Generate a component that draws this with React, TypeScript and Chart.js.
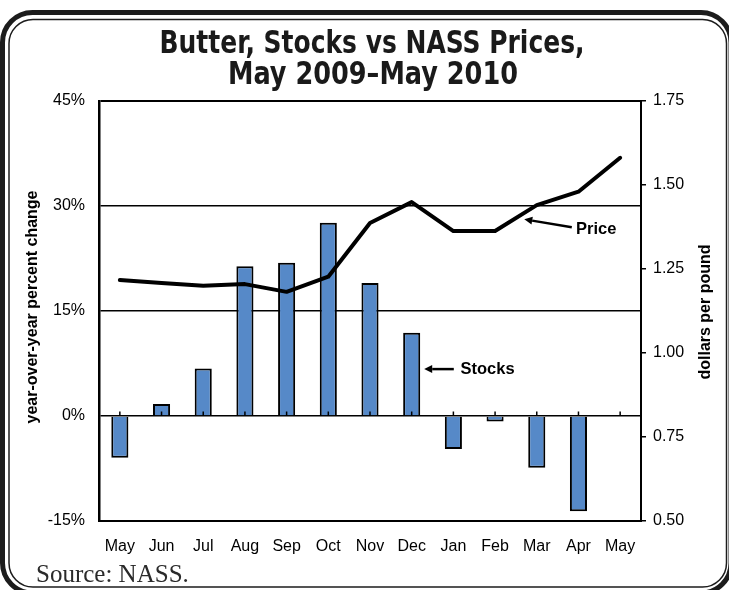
import React, { useEffect, useRef } from 'react';
import { Chart, registerables } from 'chart.js';

Chart.register(...registerables);

// ---- data ----
const months = ['May', 'Jun', 'Jul', 'Aug', 'Sep', 'Oct', 'Nov', 'Dec', 'Jan', 'Feb', 'Mar', 'Apr', 'May'];
const stocksChange: (number | null)[] = [-5.95, 1.7, 6.8, 21.4, 21.9, 27.6, 19.0, 11.9, -4.7, -0.8, -7.4, -13.6, null];
const priceDollars = [1.217, 1.208, 1.2, 1.205, 1.182, 1.227, 1.387, 1.449, 1.363, 1.363, 1.44, 1.48, 1.581];
const pctTicks = [-15, 0, 15, 30, 45];
const priceTicks = [0.5, 0.75, 1.0, 1.25, 1.5, 1.75];
const titleLines = ['Butter, Stocks vs NASS Prices,', 'May 2009\u2013May 2010'];
const leftAxisTitle = 'year-over-year percent change';
const rightAxisTitle = 'dollars per pound';
const sourceNote = 'Source: NASS.';
const priceLabel = 'Price';
const stocksLabel = 'Stocks';

const SANS = '"Liberation Sans", Arial, sans-serif';
const NARROW = '"Liberation Sans Narrow", "DejaVu Sans Condensed", "Liberation Sans", sans-serif';
const SERIF = '"Liberation Serif", "DejaVu Serif", serif';

function roundRect(ctx: CanvasRenderingContext2D, x: number, y: number, w: number, h: number, r: number) {
  ctx.beginPath();
  ctx.moveTo(x + r, y);
  ctx.lineTo(x + w - r, y);
  ctx.arcTo(x + w, y, x + w, y + r, r);
  ctx.lineTo(x + w, y + h - r);
  ctx.arcTo(x + w, y + h, x + w - r, y + h, r);
  ctx.lineTo(x + r, y + h);
  ctx.arcTo(x, y + h, x, y + h - r, r);
  ctx.lineTo(x, y + r);
  ctx.arcTo(x, y, x + r, y, r);
  ctx.closePath();
}

function arrow(ctx: CanvasRenderingContext2D, x1: number, y1: number, x2: number, y2: number) {
  const ang = Math.atan2(y2 - y1, x2 - x1);
  const hl = 8, hw = 4;
  const bx = x2 - hl * Math.cos(ang);
  const by = y2 - hl * Math.sin(ang);
  ctx.beginPath();
  ctx.moveTo(x1, y1);
  ctx.lineTo(bx, by);
  ctx.lineWidth = 2.5;
  ctx.strokeStyle = '#000';
  ctx.stroke();
  ctx.beginPath();
  ctx.moveTo(x2, y2);
  ctx.lineTo(bx + hw * Math.sin(ang), by - hw * Math.cos(ang));
  ctx.lineTo(bx - hw * Math.sin(ang), by + hw * Math.cos(ang));
  ctx.closePath();
  ctx.fillStyle = '#000';
  ctx.fill();
}

function fitText(ctx: CanvasRenderingContext2D, text: string, cx: number, y: number, targetW: number) {
  const w = ctx.measureText(text).width;
  const s = targetW / w;
  ctx.save();
  ctx.translate(cx, y);
  ctx.scale(s, 1);
  ctx.textAlign = 'center';
  ctx.fillText(text, 0, 0);
  ctx.restore();
}

const decor = {
  id: 'decor',
  beforeDraw(chart: any) {
    const ctx: CanvasRenderingContext2D = chart.ctx;
    ctx.save();
    ctx.fillStyle = '#fff';
    ctx.fillRect(0, 0, chart.width, chart.height);
    roundRect(ctx, 2.5, 12.5, 731 - 2.5, 593 - 12.5, 30);
    ctx.lineWidth = 5;
    ctx.strokeStyle = '#1c1c1c';
    ctx.stroke();
    roundRect(ctx, 9, 19.5, 726.5 - 9, 587 - 19.5, 24);
    ctx.lineWidth = 1.5;
    ctx.stroke();

    ctx.fillStyle = '#1a1a1a';
    ctx.textBaseline = 'alphabetic';
    ctx.font = `bold 32px ${NARROW}`;
    fitText(ctx, titleLines[0], 372, 53, 425);
    fitText(ctx, titleLines[1], 373, 84, 290);
    ctx.restore();
  },
  afterDatasetsDraw(chart: any) {
    const ctx: CanvasRenderingContext2D = chart.ctx;
    const xs = chart.scales.x;
    const y = chart.scales.y;
    const yR = chart.scales.yR;
    ctx.save();
    const y0 = y.getPixelForValue(0);
    ctx.strokeStyle = '#000';
    ctx.lineWidth = 1.5;
    months.forEach((_, i) => {
      const px = xs.getPixelForValue(i);
      ctx.beginPath();
      ctx.moveTo(px, y0);
      ctx.lineTo(px, y0 - 4.5);
      ctx.stroke();
    });

    arrow(ctx, xs.getPixelForValue(10.84), yR.getPixelForValue(1.374), xs.getPixelForValue(9.7), yR.getPixelForValue(1.398));
    ctx.fillStyle = '#000';
    ctx.font = `bold 16.5px ${SANS}`;
    ctx.textAlign = 'left';
    ctx.textBaseline = 'middle';
    ctx.fillText(priceLabel, xs.getPixelForValue(10.94), yR.getPixelForValue(1.369));

    arrow(ctx, xs.getPixelForValue(8.01), y.getPixelForValue(6.7), xs.getPixelForValue(7.3), y.getPixelForValue(6.7));
    ctx.fillStyle = '#000';
    ctx.fillText(stocksLabel, xs.getPixelForValue(8.17), y.getPixelForValue(6.6));
    ctx.restore();
  },
  afterDraw(chart: any) {
    const ctx: CanvasRenderingContext2D = chart.ctx;
    ctx.save();
    ctx.fillStyle = '#000';
    ctx.font = `bold 16px ${SANS}`;
    ctx.textAlign = 'center';
    ctx.textBaseline = 'middle';
    ctx.translate(33, 307);
    ctx.rotate(-Math.PI / 2);
    ctx.fillText(leftAxisTitle, 0, 0);
    ctx.restore();

    ctx.save();
    ctx.fillStyle = '#000';
    ctx.font = `bold 16px ${SANS}`;
    ctx.textAlign = 'center';
    ctx.textBaseline = 'middle';
    ctx.translate(706, 312);
    ctx.rotate(-Math.PI / 2);
    ctx.fillText(rightAxisTitle, 0, 0);
    ctx.restore();

    ctx.save();
    ctx.fillStyle = '#2a2a2a';
    ctx.font = `25px ${SERIF}`;
    ctx.textAlign = 'left';
    ctx.textBaseline = 'alphabetic';
    ctx.fillText(sourceNote, 36, 582);
    ctx.restore();
  },
};

export default function App() {
  const ref = useRef<HTMLCanvasElement>(null);
  useEffect(() => {
    document.body.style.margin = '0';
    const canvas = ref.current!;
    const tickFont = { family: SANS, size: 16 };
    const chart = new Chart(canvas, {
      type: 'bar',
      data: {
        labels: months,
        datasets: [
          {
            type: 'line',
            label: 'Price',
            data: priceDollars,
            yAxisID: 'yR',
            borderColor: '#000',
            backgroundColor: '#000',
            borderWidth: 4,
            pointRadius: 0,
            tension: 0,
            order: 0,
            borderCapStyle: 'round',
            borderJoinStyle: 'round',
          } as any,
          {
            type: 'bar',
            label: 'Stocks',
            data: stocksChange,
            yAxisID: 'y',
            backgroundColor: '#5689C8',
            borderColor: '#000',
            borderWidth: 2,
            categoryPercentage: 1,
            barPercentage: 0.41,
            order: 1,
          } as any,
        ],
      },
      options: {
        responsive: false,
        animation: false,
        layout: { padding: { top: 101, left: 0, right: 0, bottom: 0 } },
        plugins: {
          legend: { display: false },
          tooltip: { enabled: false },
          title: { display: false },
        },
        scales: {
          x: {
            position: 'bottom',
            offset: true,
            grid: { display: false, drawTicks: false },
            border: { display: true, color: '#000', width: 2 },
            ticks: { color: '#000', font: tickFont, padding: 16, maxRotation: 0, autoSkip: false },
            afterFit: (s: any) => { s.height = 69; },
          },
          y: {
            position: 'left',
            min: pctTicks[0],
            max: pctTicks[pctTicks.length - 1],
            ticks: { stepSize: 15, callback: (v: any) => `${v}%`, color: '#000', font: tickFont, padding: 14 },
            grid: {
              color: '#000',
              lineWidth: (c: any) => (c.tick && c.tick.value === pctTicks[pctTicks.length - 1] ? 2 : 1.5),
              drawTicks: false,
            },
            border: { display: true, color: '#000', width: 2.5 },
            afterFit: (s: any) => { s.width = 99; },
          },
          yR: {
            position: 'right',
            min: priceTicks[0],
            max: priceTicks[priceTicks.length - 1],
            ticks: { stepSize: 0.25, callback: (v: any) => Number(v).toFixed(2), color: '#000', font: tickFont, padding: 7 },
            grid: { drawOnChartArea: false, color: '#000', lineWidth: 1.5, tickLength: 5 },
            border: { display: true, color: '#000', width: 2 },
            afterFit: (s: any) => { s.width = 88; },
          },
        },
      } as any,
      plugins: [decor],
    });
    return () => chart.destroy();
  }, []);
  return <canvas ref={ref} width={729} height={590} style={{ display: 'block' }} />;
}
